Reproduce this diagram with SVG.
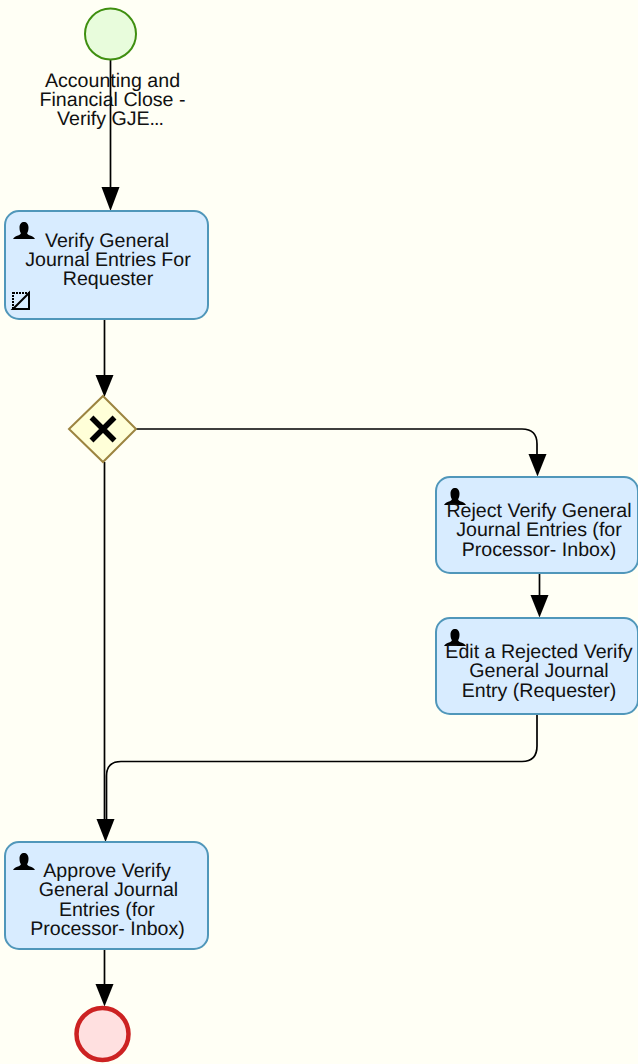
<svg xmlns="http://www.w3.org/2000/svg" width="638" height="1064" viewBox="0 0 638 1064">
<style>
.t{font-family:"Liberation Sans",Arial,sans-serif;font-size:19.6px;fill:#111;text-anchor:middle;text-rendering:geometricPrecision}
.task{fill:#d8ecff;stroke:#5097ba;stroke-width:2}
.c{fill:none;stroke:#000;stroke-width:1.700}
</style>
<defs>
<g id="user"><path d="M0 17C1 15 3 14.300 5 13.500C7 12.800 8 12 7.800 11C7 9.800 6.500 8 6.500 5.500C6.500 2 8.500 0 11 0S15.500 2 15.500 5.500C15.500 8 15 9.800 14.200 11C14 12 15 12.800 17 13.500C19 14.300 21 15 22 17Z" fill="#000"/></g>
</defs>
<rect width="638" height="1064" fill="#fffff5"/>
<g id="connectors">
<path class="c" d="M110.500 60V195"/>
<path d="M101.500 187H119.500L110.500 211Z"/>
<path class="c" d="M104.500 319V380"/>
<path d="M95.500 375H113.500L104.500 397Z"/>
<path class="c" d="M136 429H522Q537 429 537 444V460"/>
<path d="M528.500 454H546.500L537.500 476.500Z"/>
<path class="c" d="M539.500 573V600"/>
<path d="M530.500 595H548.500L539.500 617.500Z"/>
<path class="c" d="M104.500 462V830"/>
<path class="c" d="M537 714V746Q537 761.500 522 761.500H121Q106.500 761.500 106.500 776V830"/>
<path d="M96.500 819H114.500L105.500 842Z"/>
<path class="c" d="M104.500 949V990"/>
<path d="M95.500 984H113.500L104.500 1006.500Z"/>
</g>
<g id="start"><circle cx="110.500" cy="34" r="25.500" fill="#e8fcdc" stroke="#3f8f10" stroke-width="2"/>
<text class="t"><tspan x="112.500" y="87">Accounting and</tspan><tspan x="112.500" y="106">Financial Close -</tspan><tspan x="110" y="125">Verify GJE<tspan letter-spacing="-1">...</tspan></tspan></text></g>
<g id="task1"><rect class="task" x="5" y="211" width="203" height="108" rx="14"/>
<use href="#user" x="13" y="222"/>
<path d="M13 293H29V309H13Z" fill="none" stroke="#000" stroke-width="2" stroke-dasharray="2 1"/><path d="M29 293V309H13Z" fill="none" stroke="#000" stroke-width="2"/>
<text class="t"><tspan x="107" y="247">Verify General</tspan><tspan x="108" y="266">Journal Entries For</tspan><tspan x="108" y="285">Requester</tspan></text></g>
<g id="gateway"><path d="M103 396L136 429L103 462L69 429Z" fill="#ffffd8" stroke="#9c8440" stroke-width="2"/>
<path d="M91.500 417.500L114.500 440.500M114.500 417.500L91.500 440.500" stroke="#000" stroke-width="5.500"/></g>
<g id="task2"><rect class="task" x="436" y="477" width="202" height="96" rx="14"/>
<use href="#user" x="444" y="488"/>
<text class="t"><tspan x="539" y="517">Reject Verify General</tspan><tspan x="539" y="536">Journal Entries (for</tspan><tspan x="539" y="556">Processor- Inbox)</tspan></text></g>
<g id="task3"><rect class="task" x="436" y="618" width="202" height="96" rx="14"/>
<use href="#user" x="444" y="629"/>
<text class="t"><tspan x="539" y="658">Edit a Rejected Verify</tspan><tspan x="539" y="677">General Journal</tspan><tspan x="539" y="697">Entry (Requester)</tspan></text></g>
<g id="task4"><rect class="task" x="5" y="842" width="203" height="107" rx="14"/>
<use href="#user" x="13" y="853"/>
<text class="t"><tspan x="107" y="877">Approve Verify</tspan><tspan x="108.500" y="896">General Journal</tspan><tspan x="106.800" y="916">Entries (for</tspan><tspan x="107.500" y="935">Processor- Inbox)</tspan></text></g>
<g id="end"><circle cx="102.500" cy="1034" r="26" fill="#ffe0e0" stroke="#cc2222" stroke-width="4.500"/></g>
</svg>
